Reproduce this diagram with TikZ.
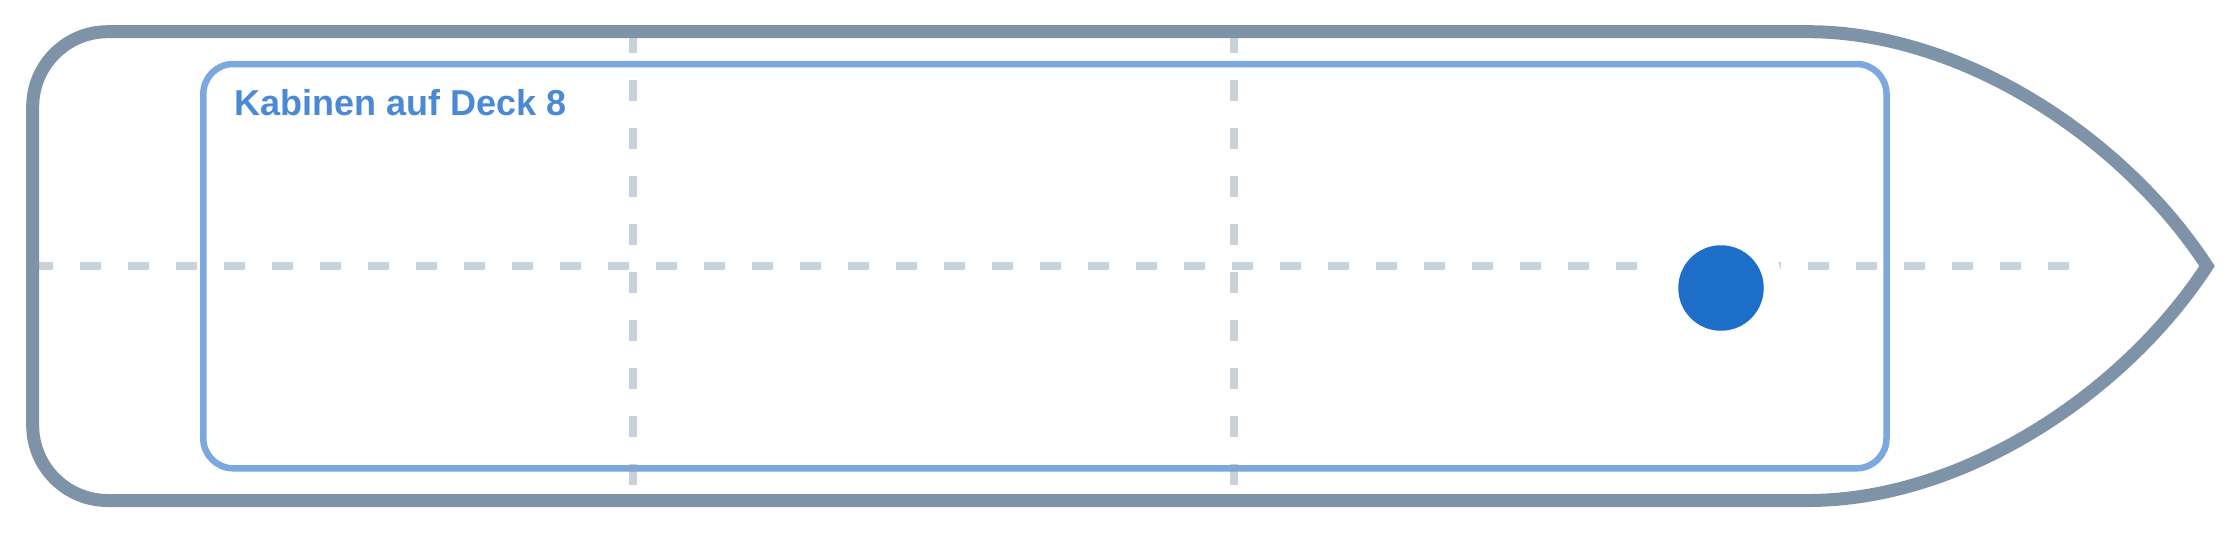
\documentclass[tikz,border=0pt]{standalone}
\usepackage{fontspec}
\setmainfont{Liberation Sans}
\definecolor{hullc}{HTML}{7F93A8}
\definecolor{innerc}{HTML}{7AA8DF}
\definecolor{labelc}{HTML}{4A8AD4}
\definecolor{markc}{HTML}{1E6FCA}
\definecolor{dashc}{HTML}{94A3B8}
\tikzset{
  hull/.style={draw=hullc, line width=13pt, line join=miter},
  deckbox/.style={draw=innerc, line width=6.5pt, rounded corners=30pt},
  grid/.style={draw=dashc, draw opacity=0.5, line width=8pt, dash pattern=on 21pt off 27pt},
  marker/.style={circle, fill=markc, minimum size=85.5pt, inner sep=0pt},
  decklabel/.style={anchor=base west, inner sep=0pt, text=labelc, font=\bfseries\fontsize{36}{36}\selectfont}
}
\begin{document}
\begin{tikzpicture}[x=1pt,y=-1pt]
\useasboundingbox (0,0) rectangle (2240,533);
% inner deck box
\draw[deckbox] (203.3,64) rectangle (1886.5,468.3);
% dashed grid lines
\draw[grid] (32,266) -- (2080,266);
\draw[grid] (633,32) -- (633,500);
\draw[grid] (1233.5,32) -- (1233.5,500);
% hull outline
\draw[hull] (1810,31.7) -- (107.7,31.7)
  .. controls (66.3,31.7) and (32.7,65.3) .. (32.7,106.7)
  -- (32.7,425.5)
  .. controls (32.7,466.9) and (66.3,500.5) .. (107.7,500.5)
  -- (1810,500.5)
  .. controls (1965,499.5) and (2125,392) .. (2207,266.1)
  .. controls (2125,140) and (1965,32.7) .. (1810,31.7) -- cycle;
% marker with white halo
\fill[white] (1721,288) circle (62.5pt);
\node[marker] (pos) at (1721,288) {};
% label
\node[decklabel] (label) at (234,115.5) {Kabinen auf Deck 8};
\end{tikzpicture}
\end{document}
